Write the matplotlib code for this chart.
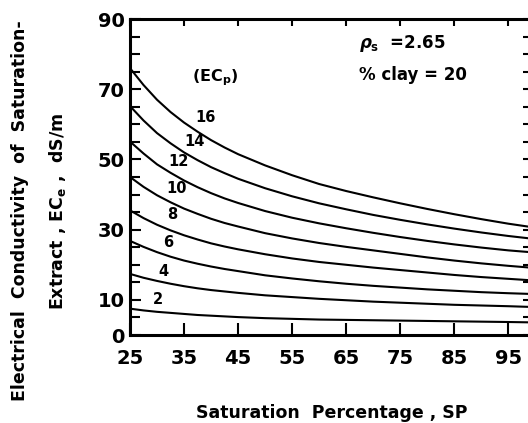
import matplotlib
matplotlib.use("Agg")
import matplotlib.pyplot as plt

# ---- data ----
sp = [25, 27.5, 30, 32.5, 35, 37.5, 40, 42.5, 45, 50, 55, 60, 65, 70, 75, 80, 85, 90, 95, 99]
ec16 = [76.0, 71.2, 67.0, 63.5, 60.5, 57.9, 55.5, 53.4, 51.5, 48.3, 45.5, 43.0, 41.0, 39.2, 37.5, 35.9, 34.4, 33.0, 31.7, 30.8]
ec14 = [65.2, 61.1, 57.5, 54.6, 52.0, 49.8, 47.8, 46.1, 44.5, 41.8, 39.5, 37.5, 35.8, 34.2, 32.8, 31.5, 30.3, 29.2, 28.2, 27.5]
ec12 = [55.1, 51.7, 48.6, 46.2, 44.0, 42.1, 40.4, 38.9, 37.6, 35.3, 33.4, 31.8, 30.4, 29.1, 27.9, 26.8, 25.8, 24.9, 24.1, 23.6]
ec10 = [45.0, 42.2, 39.8, 37.8, 36.0, 34.5, 33.1, 31.9, 30.9, 29.0, 27.5, 26.2, 25.1, 24.1, 23.1, 22.1, 21.2, 20.4, 19.7, 19.2]
ec8 = [35.5, 33.3, 31.4, 29.8, 28.4, 27.2, 26.1, 25.2, 24.4, 23.0, 21.8, 20.8, 20.0, 19.2, 18.5, 17.8, 17.1, 16.5, 16.0, 15.6]
ec6 = [26.8, 25.1, 23.6, 22.3, 21.2, 20.3, 19.5, 18.8, 18.2, 17.0, 16.1, 15.3, 14.6, 14.0, 13.5, 13.0, 12.6, 12.2, 11.9, 11.7]
ec4 = [17.4, 16.3, 15.4, 14.6, 13.9, 13.3, 12.8, 12.4, 12.0, 11.3, 10.8, 10.3, 9.9, 9.5, 9.2, 8.9, 8.6, 8.4, 8.2, 8.0]
ec2 = [7.5, 7.0, 6.6, 6.3, 6.0, 5.7, 5.5, 5.3, 5.1, 4.8, 4.6, 4.4, 4.3, 4.2, 4.1, 4.0, 3.9, 3.8, 3.7, 3.6]
curves = [ec16, ec14, ec12, ec10, ec8, ec6, ec4, ec2]
curve_labels = ["16", "14", "12", "10", "8", "6", "4", "2"]
label_x = [38.9, 37.0, 33.9, 33.6, 32.9, 32.0, 31.1, 30.2]
label_y = [62.0, 55.2, 49.5, 41.8, 34.2, 26.3, 18.0, 10.2]

x_ticks = [25, 35, 45, 55, 65, 75, 85, 95]
y_ticks = [0, 10, 30, 50, 70, 90]
y_minor = list(range(0, 91, 5))

plt.rcParams['font.family'] = 'DejaVu Sans'
plt.rcParams['font.weight'] = 'bold'
plt.rcParams['mathtext.fontset'] = 'custom'
plt.rcParams['mathtext.rm'] = 'DejaVu Sans:bold'
plt.rcParams['mathtext.it'] = 'DejaVu Sans:bold:italic'
plt.rcParams['mathtext.bf'] = 'DejaVu Sans:bold'

fig = plt.figure(figsize=(5.28, 4.23), dpi=100)
ax = fig.add_axes([130 / 528, 1 - 335 / 423, 400 / 528, (335 - 19) / 423])

for c in curves:
    ax.plot(sp, c, color='black', lw=1.5, solid_capstyle='butt', solid_joinstyle='round')

for t, x, y in zip(curve_labels, label_x, label_y):
    ax.text(x, y, t, fontsize=10.5, fontweight='bold', ha='center', va='center')

ax.text(40.7, 73.2, r'(EC$_\mathrm{p}$)', fontsize=11.5, ha='center', va='center')
ax.text(67.3, 83.0, r'$\rho_\mathrm{s}$  =2.65', fontsize=12, ha='left', va='center')
ax.text(67.3, 74.0, '% clay = 20', fontsize=12, ha='left', va='center')

ax.set_xlim(25, 99)
ax.set_ylim(0, 90)

ax.set_xticks(x_ticks)
ax.set_xticklabels([str(v) for v in x_ticks], fontsize=14, fontweight='bold')
ax.set_yticks(y_ticks)
ax.set_yticklabels([str(v) for v in y_ticks], fontsize=14, fontweight='bold')
ax.set_yticks(y_minor, minor=True)

ax.tick_params(axis='x', which='major', direction='in', length=9, width=1.5,
               pad=10, top=True, labeltop=False)
ax.tick_params(axis='y', which='major', direction='in', length=8, width=1.5,
               pad=4, right=True, labelright=False)
ax.tick_params(axis='y', which='minor', direction='in', length=7, width=1.5,
               right=True)
for tk in ax.xaxis.get_major_ticks():
    tk.tick2line.set_markersize(5)
for tk in ax.yaxis.get_major_ticks() + ax.yaxis.get_minor_ticks():
    tk.tick2line.set_markersize(5)

for s in ax.spines.values():
    s.set_linewidth(2.2)

fig.text(20 / 528, 1 - 211 / 423, 'Electrical  Conductivity  of  Saturation-',
         rotation=90, fontsize=12.5, ha='center', va='center')
fig.text(57 / 528, 1 - 211 / 423, r'Extract , EC$_\mathrm{e}$ ,  dS/m',
         rotation=90, fontsize=12.5, ha='center', va='center')
fig.text(332 / 528, 1 - 413 / 423, 'Saturation  Percentage , SP',
         fontsize=12.5, ha='center', va='center')

fig.savefig('out.png', dpi=100)
